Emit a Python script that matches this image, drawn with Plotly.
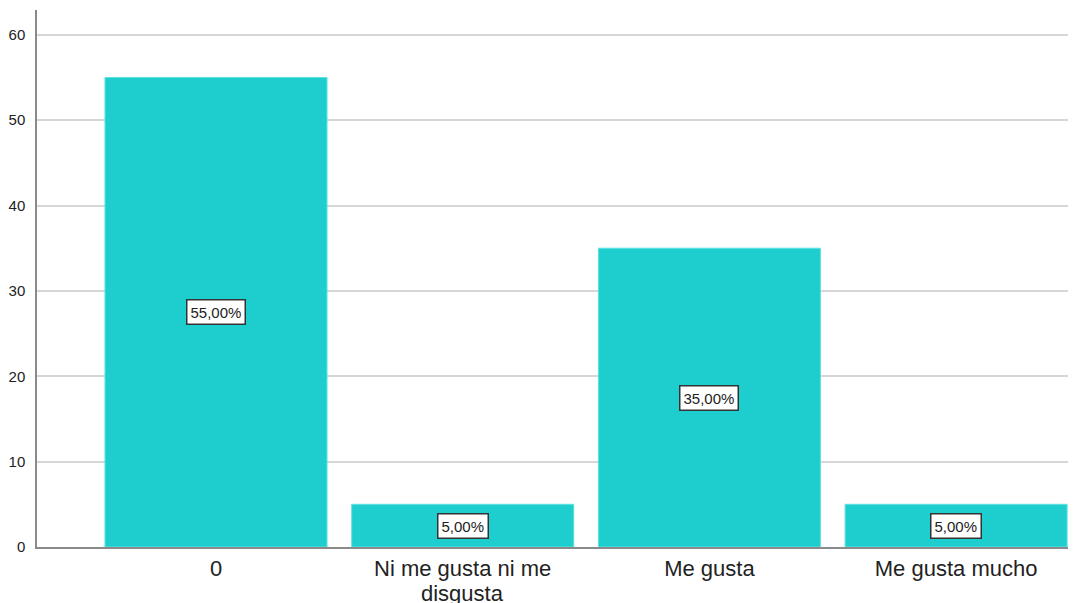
import plotly.graph_objects as go

categories = ["0", "Ni me gusta ni me disgusta", "Me gusta", "Me gusta mucho"]
label_line1 = ["0", "Ni me gusta ni me", "Me gusta", "Me gusta mucho"]
label_line2 = ["", "disgusta", "", ""]
values = [55, 5, 35, 5]
pct_labels = ["55,00%", "5,00%", "35,00%", "5,00%"]
y_ticks = [0, 10, 20, 30, 40, 50, 60]

bar_color = "#1ECECE"

fig = go.Figure()
fig.add_trace(go.Bar(
    x=categories,
    y=values,
    marker=dict(color=bar_color, line=dict(color="#5FE0E0", width=1)),
    hoverinfo="skip",
))

for c, v, t in zip(categories, values, pct_labels):
    fig.add_annotation(
        x=c, y=v / 2, text=t, showarrow=False,
        font=dict(family="Arial, Liberation Sans", size=15, color="#222"),
        bgcolor="white", bordercolor="#333", borderwidth=1.5, borderpad=3,
    )

# second line of wrapped category labels (tighter line spacing than Plotly's default)
for c, t in zip(categories, label_line2):
    if t:
        fig.add_annotation(
            x=c, xref="x", y=0, yref="paper", yanchor="top", yshift=-33,
            text=t, showarrow=False, borderpad=0,
            font=dict(family="Arial, Liberation Sans", size=22, color="#222"),
        )

fig.update_layout(
    width=1068, height=595,
    margin=dict(l=29, r=0, t=2, b=56, pad=0, autoexpand=False),
    paper_bgcolor="white", plot_bgcolor="white",
    bargap=0.1,
    showlegend=False,
    font=dict(family="Arial, Liberation Sans", color="#222"),
)
fig.update_xaxes(
    type="category",
    range=[-0.7256, 3.486],
    tickvals=categories, ticktext=label_line1,
    automargin=False,
    showline=True, linecolor="#8a8a8a", linewidth=1.5,
    showgrid=False, ticks="",
    tickfont=dict(size=22, color="#222"),
    ticklabelstandoff=1,
)
fig.update_yaxes(
    range=[0, 62.9],
    tickvals=y_ticks,
    automargin=False,
    showline=True, linecolor="#8a8a8a", linewidth=1.5,
    showgrid=True, gridcolor="#D6D6D6", gridwidth=1.5,
    zeroline=False, ticks="",
    tickfont=dict(size=15, color="#222"),
    ticklabelstandoff=7,
)

fig.write_html("out.html")
